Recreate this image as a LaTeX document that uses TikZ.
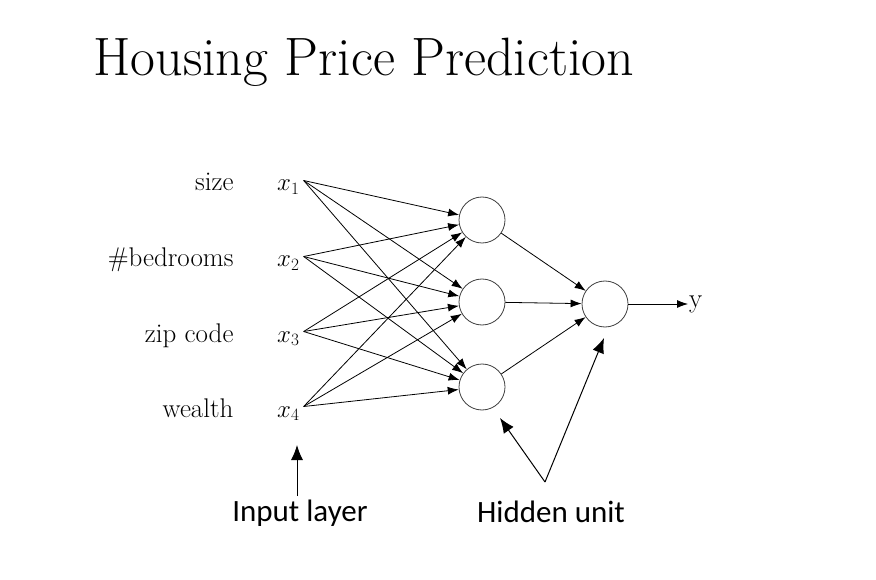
\documentclass[tikz,border=0pt]{standalone}
\usepackage{fontspec}
\newfontfamily\labelfont{Carlito}
\usetikzlibrary{arrows.meta}

\begin{document}
\begin{tikzpicture}
    [
      x=1pt,y=-1pt,
      feature/.style={anchor=base east,font=\fontsize{27}{32}\selectfont},
      input/.style={anchor=base west,inner sep=1pt,font=\fontsize{26}{30}\selectfont},
      unit/.style={draw=black!75,circle,minimum size=46pt,inner sep=0pt,line width=0.8pt},
      weight/.style={-{Latex[length=11pt,width=8pt]},line width=0.8pt},
      callout/.style={-{Latex[length=15pt,width=12pt]},line width=1pt},
      caption/.style={font=\labelfont\fontsize{31}{36}\selectfont}
    ]

    \useasboundingbox (0,0) rectangle (876,580);

    \node at (93,76) [anchor=base west,inner sep=0pt,
      font=\fontsize{54}{62}\selectfont] (title) {Housing Price Prediction};

    \node at (237,191) [feature] (size) {size};
    \node at (237,267) [feature] (bedrooms) {\#bedrooms};
    \node at (237,342) [feature] (zip) {zip code};
    \node at (237,417) [feature] (wealth) {wealth};

    \node at (276,191) [input] (x1) {$x_1$};
    \node at (276,267) [input] (x2) {$x_2$};
    \node at (276,342) [input] (x3) {$x_3$};
    \node at (276,417) [input] (x4) {$x_4$};

    \node at (482,220) [unit] (h1) {};
    \node at (482,302) [unit] (h2) {};
    \node at (482,387) [unit] (h3) {};
    \node at (605,304) [unit] (out) {};
    \node at (688,304) [anchor=west,inner sep=1pt,
      font=\fontsize{27}{32}\selectfont] (y) {y};

    % inputs to hidden layer
    \foreach \i in {1,...,4}
      \foreach \j in {1,2,3}
        \draw [weight] ([xshift=3pt,yshift=7pt]x\i.east) -- (h\j);

    \foreach \j in {1,2,3}
      \draw [weight] (h\j) -- (out);
    \draw [weight] (out) -- (y);

    \node at (300,513) [caption] (inlayer) {Input layer};
    \node at (551,512) [caption] (hidden) {Hidden unit};

    \coordinate (intip) at (297,445);
    \coordinate (fork) at (545,482);
    \coordinate (htip) at (500,418);
    \coordinate (otip) at (604,338);

    \draw [callout] (inlayer.north -| intip) -- (intip);
    \draw [callout] (fork) -- (htip);
    \draw [callout] (fork) -- (otip);
\end{tikzpicture}
\end{document}
